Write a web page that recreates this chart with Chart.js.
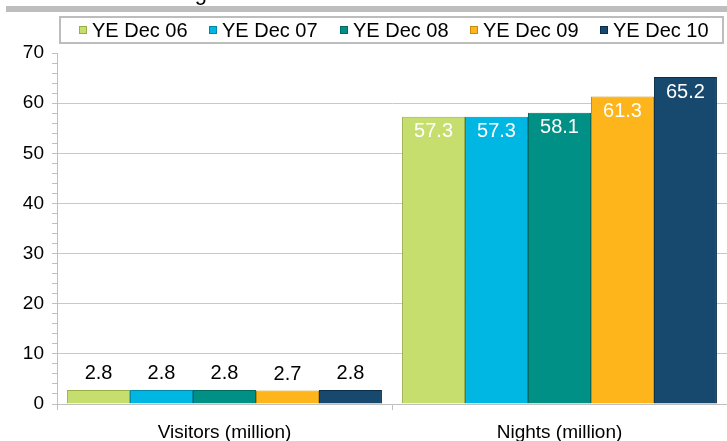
<!DOCTYPE html>
<html>
<head>
<meta charset="utf-8">
<script src="https://cdn.jsdelivr.net/npm/chart.js@4.4.1/dist/chart.umd.min.js"></script>
<style>
html,body{margin:0;padding:0;background:#fff;}
#wrap{width:727px;height:441px;position:relative;overflow:hidden;}
</style>
</head>
<body>
<div id="wrap"><canvas id="c" width="727" height="441"></canvas></div>
<script>
const categories = ["Visitors (million)", "Nights (million)"];
const seriesNames = ["YE Dec 06", "YE Dec 07", "YE Dec 08", "YE Dec 09", "YE Dec 10"];
const dec06 = [2.8, 57.3];
const dec07 = [2.8, 57.3];
const dec08 = [2.8, 58.1];
const dec09 = [2.7, 61.3];
const dec10 = [2.8, 65.2];
const yTicks = [0, 10, 20, 30, 40, 50, 60, 70];
const titleText = "Visiting";

const fills = ["#C6DE6E", "#00B6E2", "#009085", "#FDB51B", "#17486E"];
const edges = ["#98AE48", "#0088AA", "#006A61", "#C88C0C", "#0C2D47"];
const seriesValues = [dec06, dec07, dec08, dec09, dec10];

const FONT = "'Liberation Sans', Arial, sans-serif";

const decoPlugin = {
  id: 'deco',
  beforeDraw(chart) {
    const ctx = chart.ctx;
    ctx.save();
    ctx.fillStyle = '#000';
    ctx.font = "22px " + FONT;
    ctx.textAlign = 'right';
    ctx.textBaseline = 'alphabetic';
    ctx.fillText(titleText, 207, -0.5);
    ctx.fillStyle = '#BEBEBE';
    ctx.fillRect(6, 6, 721, 6);
    ctx.restore();
  },
  afterDraw(chart) {
    const ctx = chart.ctx;
    ctx.save();
    const bx = 60, by = 17, bw = 663, bh = 26;
    ctx.strokeStyle = '#BDBDBD';
    ctx.lineWidth = 2;
    ctx.strokeRect(bx, by, bw, bh);
    ctx.font = "20px " + FONT;
    ctx.textBaseline = 'middle';
    ctx.textAlign = 'left';
    const box = 8, gap = 5, spacing = 130.3;
    let x = 79;
    chart.data.datasets.forEach((ds) => {
      const cy = by + bh / 2;
      const sx = Math.round(x);
      ctx.fillStyle = ds.backgroundColor;
      ctx.fillRect(sx, cy - box / 2, box, box);
      ctx.strokeStyle = ds.borderColor;
      ctx.lineWidth = 1;
      ctx.strokeRect(sx + 0.5, cy - box / 2 + 0.5, box - 1, box - 1);
      ctx.fillStyle = '#000';
      ctx.fillText(ds.label, sx + box + gap, cy + 1);
      x += spacing;
    });
    ctx.font = "20px " + FONT;
    ctx.textAlign = 'center';
    chart.data.datasets.forEach((ds, i) => {
      const meta = chart.getDatasetMeta(i);
      meta.data.forEach((bar, j) => {
        const txt = ds.data[j].toFixed(1);
        if (j === 0) {
          ctx.fillStyle = '#000';
          ctx.textBaseline = 'bottom';
          ctx.fillText(txt, bar.x, bar.y - 6);
        } else {
          ctx.fillStyle = '#fff';
          ctx.textBaseline = 'top';
          ctx.fillText(txt, bar.x, bar.y + 5);
        }
      });
    });
    ctx.restore();
  }
};

new Chart(document.getElementById('c'), {
  type: 'bar',
  data: {
    labels: categories,
    datasets: seriesValues.map((vals, i) => ({
      label: seriesNames[i],
      data: vals,
      backgroundColor: fills[i],
      borderColor: edges[i],
      borderWidth: 1,
      categoryPercentage: 0.94,
      barPercentage: 1.0
    }))
  },
  options: {
    responsive: false,
    animation: false,
    devicePixelRatio: 1,
    layout: { padding: { top: 53, right: -3, left: 0, bottom: 0 } },
    plugins: { legend: { display: false }, tooltip: { enabled: false }, title: { display: false } },
    scales: {
      x: {
        grid: {
          offset: true,
          drawOnChartArea: false,
          color: '#BFBFBF',
          tickColor: '#BFBFBF',
          tickLength: 6
        },
        border: { color: '#BFBFBF', width: 1 },
        ticks: { color: '#000', font: { family: FONT, size: 19 }, padding: 11 },
        afterFit(s) { s.height = 37; }
      },
      y: {
        min: 0,
        max: 70,
        grid: {
          color: (c) => (c.tick && c.tick.value % 10 === 0 && c.tick.value !== 0 && c.tick.value !== 70) ? '#C8C8C8' : 'rgba(0,0,0,0)',
          tickColor: '#BFBFBF',
          tickLength: 5
        },
        border: { color: '#BFBFBF', width: 1 },
        ticks: {
          stepSize: 2,
          autoSkip: false,
          color: '#000',
          font: { family: FONT, size: 19 },
          padding: 8,
          callback: (v) => yTicks.includes(v) ? String(v) : ''
        },
        afterFit(s) { s.width = 57; }
      }
    }
  },
  plugins: [decoPlugin]
});
</script>
</body>
</html>
